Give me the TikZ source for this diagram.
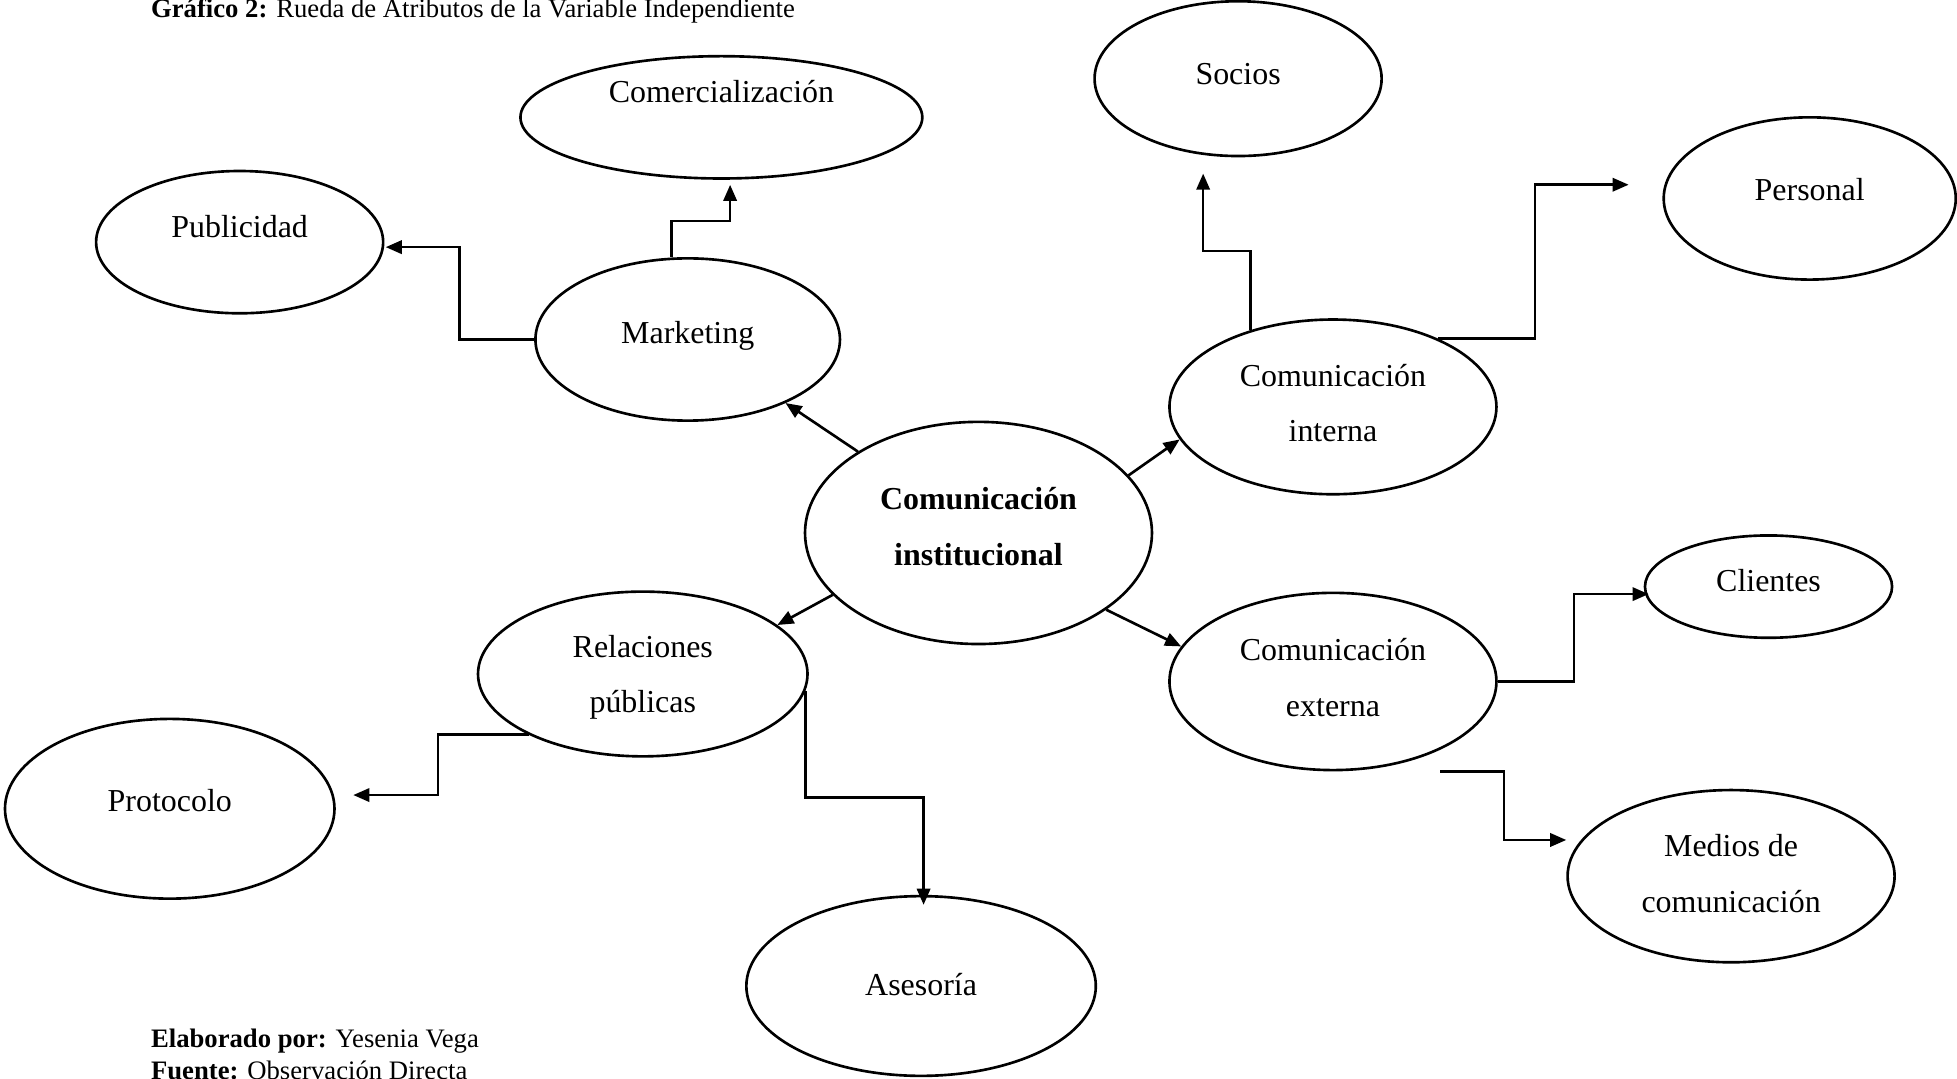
\documentclass[tikz,border=0pt]{standalone}
\usepackage{fontspec}
\setmainfont{Liberation Serif}
\usetikzlibrary{shapes.geometric,arrows.meta,calc}
\begin{document}
\begin{tikzpicture}[x=0.0125cm,y=-0.0125cm,
  line width=0.75pt,
  bubble/.style 2 args={ellipse,draw,line width=0.75pt,inner sep=0pt,
    minimum width=#1*0.025cm,minimum height=#2*0.025cm},
  lbl/.style={font=\fontsize{9.1pt}{15.8pt}\selectfont,align=center,anchor=base,inner sep=0pt},
  arr/.style={-{Triangle[length=4.6pt,width=3.8pt]},line width=0.75pt},
  note/.style={font=\fontsize{7.6pt}{9pt}\selectfont,anchor=base west,inner sep=0pt}]
\useasboundingbox (0,0) rectangle (1568,864);

% bubbles (centre, half axes in px)
\node[bubble={161}{49}] (com) at (578,94) {};
\node[bubble={115}{57}] (pub) at (192,194) {};
\node[bubble={122}{65}] (mkt) at (551,272) {};
\node[bubble={115}{62}] (soc) at (992,63) {};
\node[bubble={117}{65}] (per) at (1450,159) {};
\node[bubble={131}{70}] (int) at (1068,326) {};
\node[bubble={139}{89}] (ins) at (784,427) {};
\node[bubble={132}{66}] (rel) at (515,540) {};
\node[bubble={131}{71}] (ext) at (1068,546) {};
\node[bubble={99}{41}]  (cli) at (1417,470) {};
\node[bubble={131}{69}] (med) at (1387,702) {};
\node[bubble={132}{72}] (pro) at (136,648) {};
\node[bubble={140}{72}] (ase) at (738,790) {};

% labels (two-line labels are placed by the baseline of their last line)
\node[lbl] (comT) at (578,82) {Comercialización};
\node[lbl] (pubT) at (192,190) {Publicidad};
\node[lbl] (mktT) at (551,275) {Marketing};
\node[lbl] (socT) at (992,68) {Socios};
\node[lbl] (perT) at (1450,161) {Personal};
\node[lbl] (intT) at (1068,354) {Comunicación\\interna};
\node[lbl,font=\fontsize{9.1pt}{15.8pt}\selectfont\bfseries] (insT) at (784,453) {Comunicación\\institucional};
\node[lbl] (relT) at (515,571) {Relaciones\\públicas};
\node[lbl] (extT) at (1068,574) {Comunicación\\externa};
\node[lbl] (cliT) at (1417,474) {Clientes};
\node[lbl] (medT) at (1387,731) {Medios de\\comunicación};
\node[lbl] (proT) at (136,650) {Protocolo};
\node[lbl] (aseT) at (738,798) {Asesoría};

% connectors from the centre
\draw[arr] (ins.146) -- (mkt.-33);
\draw[arr] (ins.21) -- (int.192);
\draw[arr] (ins.203) -- (rel.20);
\draw[arr] (ins.-31) -- (ext.167);

% Marketing branches
\draw[arr] (mkt.101) |- (585,177) -- ($(com.south)+(7,4)$);
\draw[arr] (mkt.west) -| (368,198) -- ($(pub.east)+(1,4)$);

% internal communication branches
\draw[arr] (int.137) |- (964,201) -- ($(soc.south)+(-28,13)$);
\draw[arr] (int.33) -| (1230,148) -- ($(per.west)+(-27,-11)$);

% external communication branches
\draw[arr] (ext.east) -| (1261,476) -- ($(cli.west)+(4,6)$);
\coordinate (extB) at ($(ext.south)+(86,0)$);
\draw[arr] (extB) -| (1205,673) -- ($(med.west)+(0,-29)$);

% public relations branches
\draw[arr] (rel.208) -| (351,637) -- ($(pro.east)+(14,-11)$);
\draw[arr] (rel.-6) |- (740,639) -- ($(ase.north)+(2,8)$);

% caption and credits
\node[note] (title) at (120,14) {\textbf{Gráfico 2:} Rueda de Atributos de la Variable Independiente};
\node[note] (autor) at (120,839) {\textbf{Elaborado por:} Yesenia Vega};
\node[note] (fuente) at (120,865) {\textbf{Fuente:} Observación Directa};
\end{tikzpicture}
\end{document}
